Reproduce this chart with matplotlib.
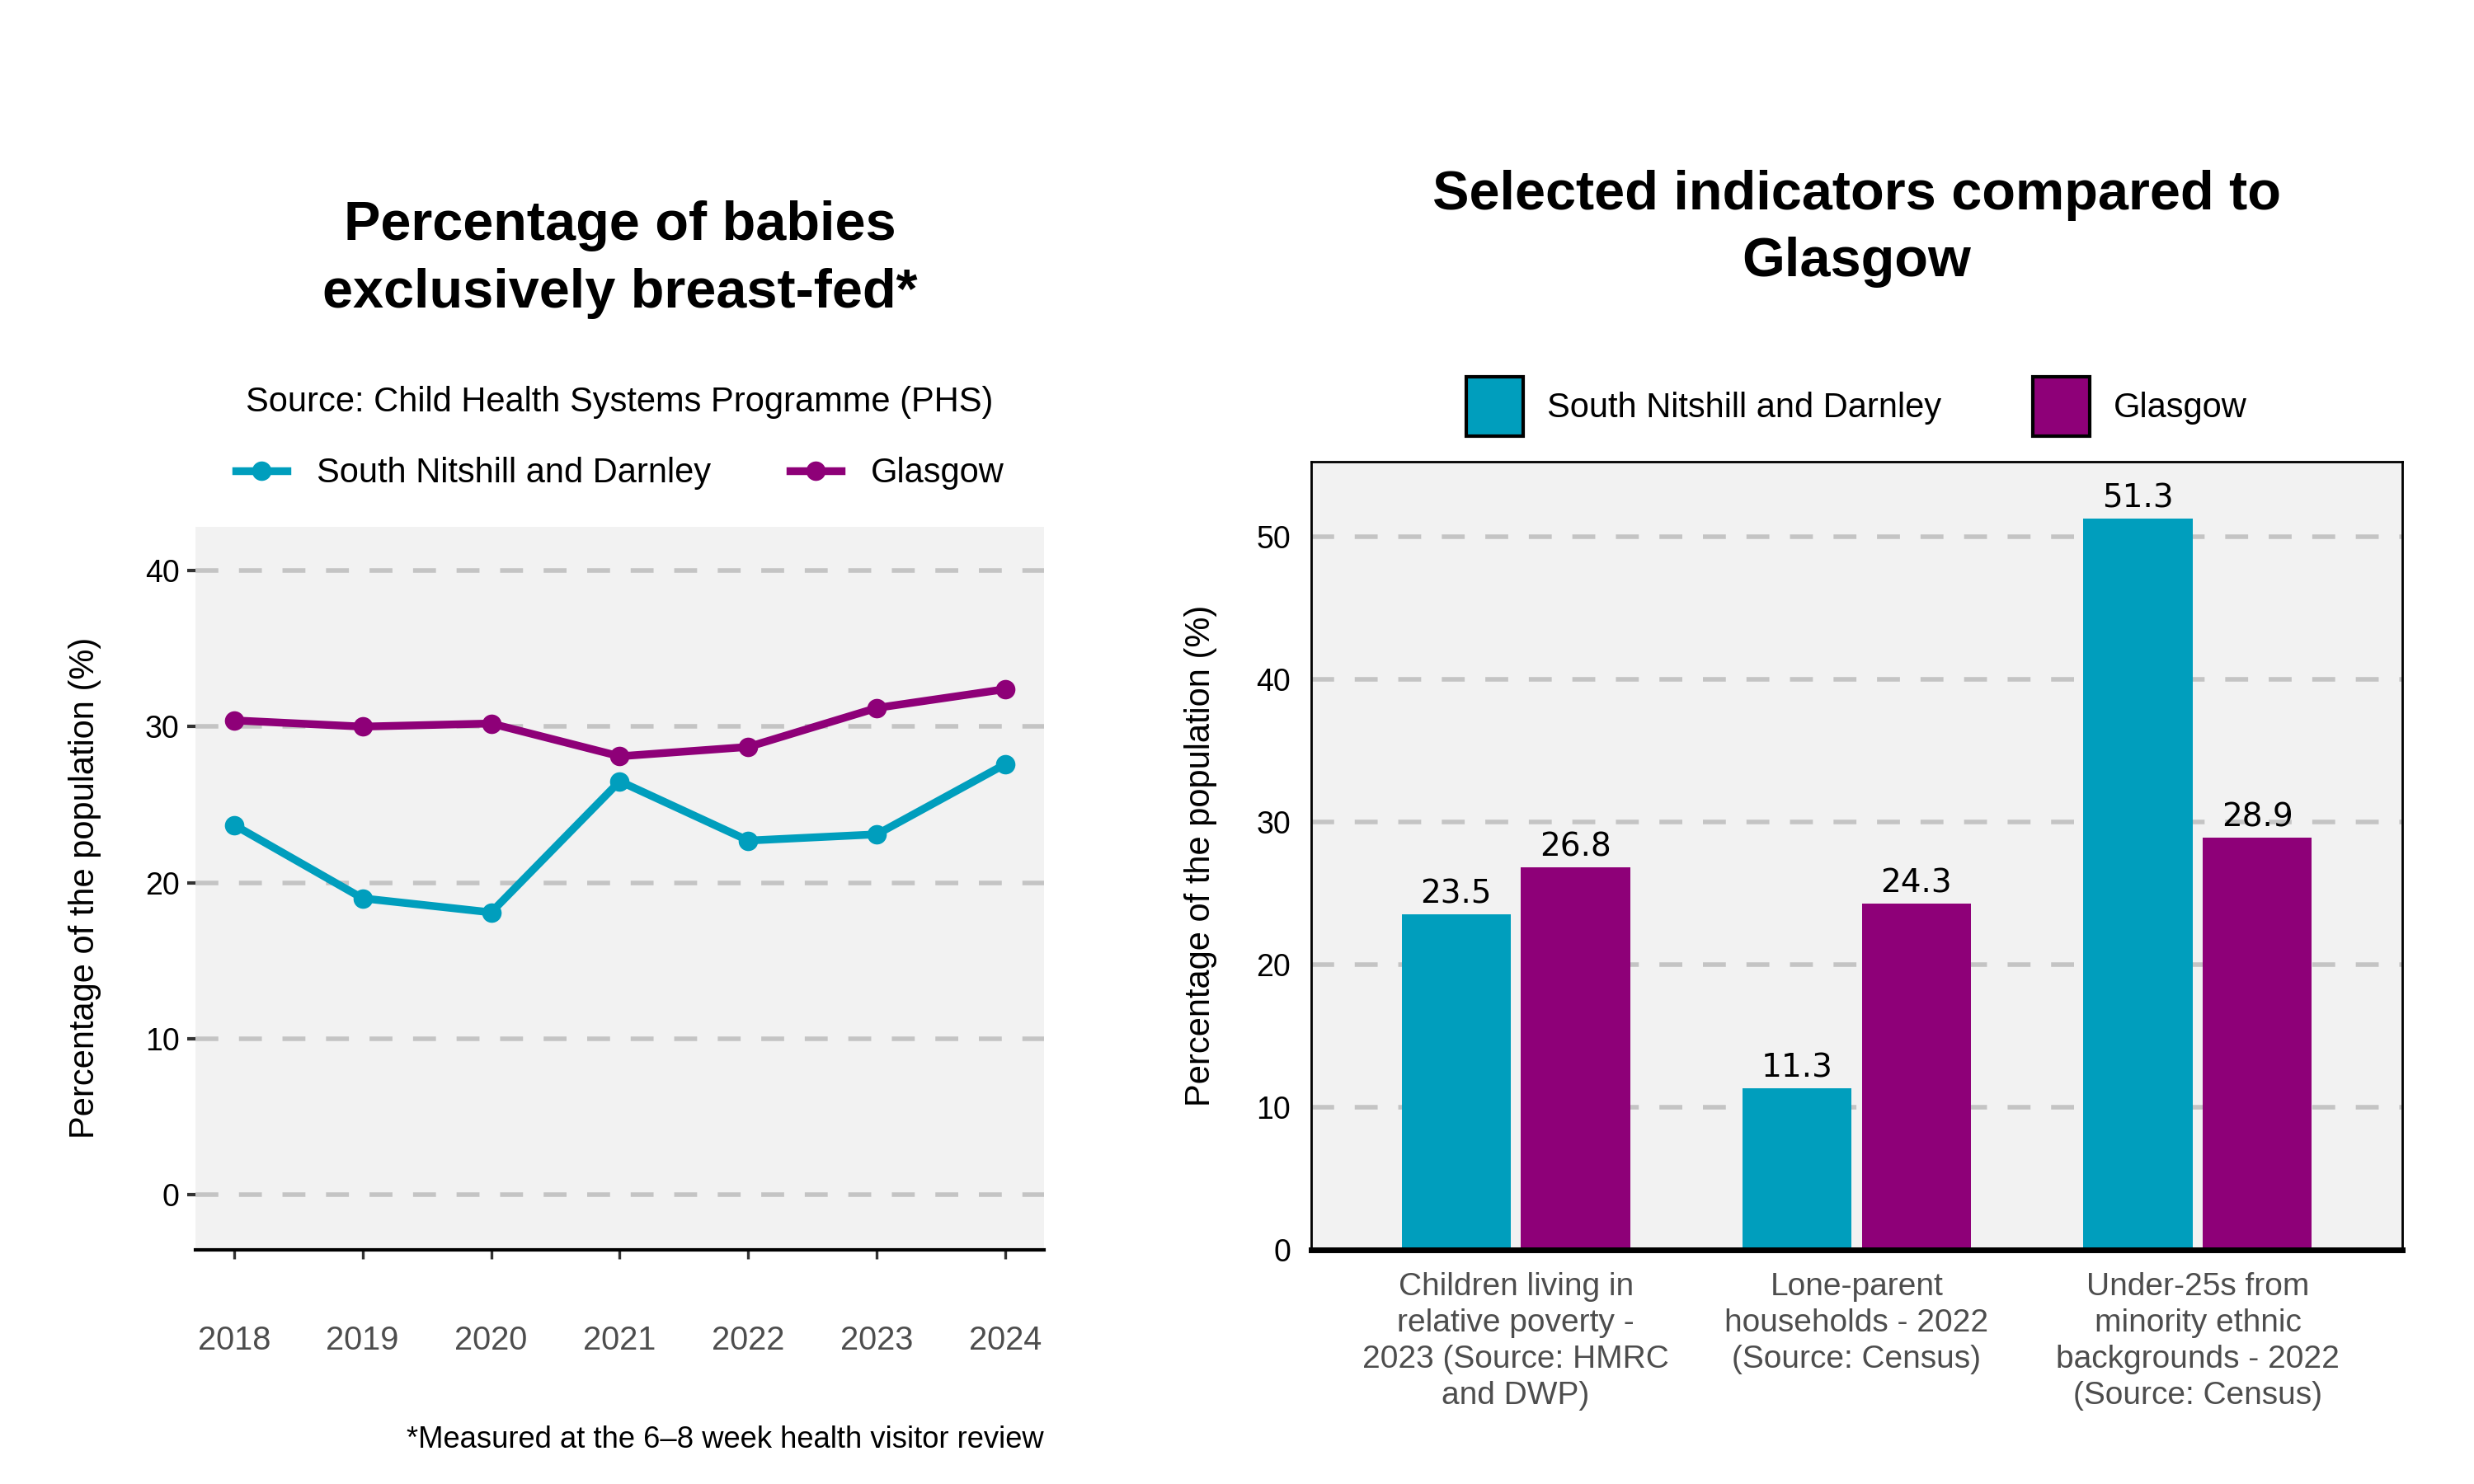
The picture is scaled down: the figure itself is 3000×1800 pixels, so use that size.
import matplotlib
matplotlib.use("Agg")
import matplotlib.pyplot as plt
from matplotlib.lines import Line2D
from matplotlib.patches import Patch

plt.rcParams['font.family'] = ['Liberation Sans', 'DejaVu Sans']

# data
years = [2018, 2019, 2020, 2021, 2022, 2023, 2024]
south_breastfed = [23.7, 19.0, 18.1, 26.5, 22.7, 23.1, 27.6]
glasgow_breastfed = [30.4, 30.0, 30.2, 28.1, 28.7, 31.2, 32.4]

indicators = ["Children living in\nrelative poverty -\n2023 (Source: HMRC\nand DWP)",
              "Lone-parent\nhouseholds - 2022\n(Source: Census)",
              "Under-25s from\nminority ethnic\nbackgrounds - 2022\n(Source: Census)"]
south_ind = [23.5, 11.3, 51.3]
glasgow_ind = [26.8, 24.3, 28.9]

area_name = "South Nitshill and Darnley"
city_name = "Glasgow"
c_area = "#009EBD"
c_city = "#8E0078"
panel_bg = "#F2F2F2"
grid_col = "#C4C4C4"
tick_grey = "#4D4D4D"
grid_ls = (0, (5, 4.5))

fig = plt.figure(figsize=(15, 9), dpi=200)

# ---------- left: line chart ----------
ax1 = fig.add_axes([0.079, 0.158, 0.343, 0.487])
ax1.set_facecolor(panel_bg)
ax1.plot(years, south_breastfed, color=c_area, lw=3.4, marker='o', ms=7.5, zorder=3)
ax1.plot(years, glasgow_breastfed, color=c_city, lw=3.4, marker='o', ms=7.5, zorder=3)
ax1.set_xlim(2017.7, 2024.3)
ax1.set_ylim(-3.5, 42.8)
ax1.set_yticks([0, 10, 20, 30, 40])
ax1.set_xticks(years)
ax1.yaxis.grid(True, color=grid_col, lw=2.0, ls=grid_ls)
ax1.set_axisbelow(True)
for s in ['top', 'right', 'left']:
    ax1.spines[s].set_visible(False)
ax1.spines['bottom'].set_color('black')
ax1.spines['bottom'].set_linewidth(1.5)
ax1.tick_params(axis='y', length=3.5, width=1.5, color='#333333', labelsize=13.5,
                labelcolor='black', pad=3.5)
ax1.tick_params(axis='x', length=4, width=1.2, color='#333333', labelsize=14.3,
                labelcolor=tick_grey, pad=29)
ax1.set_ylabel("Percentage of the population (%)", fontsize=15)
ax1.yaxis.set_label_coords(-0.111, 0.5)

fig.text(0.2505, 0.825, "Percentage of babies\nexclusively breast-fed*",
         ha='center', va='center', fontsize=24, fontweight='bold', linespacing=1.4)
fig.text(0.2505, 0.729, "Source: Child Health Systems Programme (PHS)",
         ha='center', va='center', fontsize=15)
line_handles = [Line2D([], [], color=c_area, lw=3.4, marker='o', ms=7.5),
                Line2D([], [], color=c_city, lw=3.4, marker='o', ms=7.5)]
ax1.legend(line_handles, [area_name, city_name], loc='center',
           bbox_to_anchor=(0.2505, 0.681), bbox_transform=fig.transFigure,
           ncol=2, frameon=False, fontsize=15, handlelength=1.5,
           handletextpad=0.85, columnspacing=2.3)
fig.text(0.422, 0.0295, "*Measured at the 6\u20138 week health visitor review",
         ha='right', va='center', fontsize=13.1)

# ---------- right: bar chart ----------
ax2 = fig.add_axes([0.530, 0.158, 0.441, 0.531])
ax2.set_facecolor(panel_bg)
pos = list(range(len(indicators)))
w = 0.32
off = 0.175
b1 = ax2.bar([p - off for p in pos], south_ind, width=w, color=c_area, zorder=2)
b2 = ax2.bar([p + off for p in pos], glasgow_ind, width=w, color=c_city, zorder=2)
for bars in (b1, b2):
    ax2.bar_label(bars, labels=[f"{v:.1f}" for v in bars.datavalues], padding=2,
                  fontsize=14, family='DejaVu Sans')
ax2.set_xlim(-0.6, 2.6)
ax2.set_ylim(0, 55.3)
ax2.set_yticks([0, 10, 20, 30, 40, 50])
ax2.set_xticks(pos)
ax2.set_xticklabels(indicators, linespacing=1.28)
ax2.yaxis.grid(True, color=grid_col, lw=2.0, ls=grid_ls)
ax2.set_axisbelow(True)
for s in ax2.spines.values():
    s.set_color('black')
    s.set_linewidth(1.0)
ax2.spines['bottom'].set_linewidth(2.5)
ax2.tick_params(axis='y', length=0, labelsize=13.5, labelcolor='black', pad=9)
ax2.tick_params(axis='x', length=0, labelsize=14, labelcolor=tick_grey, pad=10)
ax2.set_ylabel("Percentage of the population (%)", fontsize=15)
ax2.yaxis.set_label_coords(-0.086, 0.5)

fig.text(0.7505, 0.846, "Selected indicators compared to\nGlasgow",
         ha='center', va='center', fontsize=24, fontweight='bold', linespacing=1.4)
bar_handles = [Patch(facecolor=c_area, edgecolor='black', lw=1.5),
               Patch(facecolor=c_city, edgecolor='black', lw=1.5)]
ax2.legend(bar_handles, [area_name, city_name], loc='center',
           bbox_to_anchor=(0.7505, 0.726), bbox_transform=fig.transFigure,
           ncol=2, frameon=False, fontsize=15, handlelength=1.65, handleheight=2.3,
           handletextpad=0.7, columnspacing=2.65)

fig.savefig("out.png", dpi=200)
